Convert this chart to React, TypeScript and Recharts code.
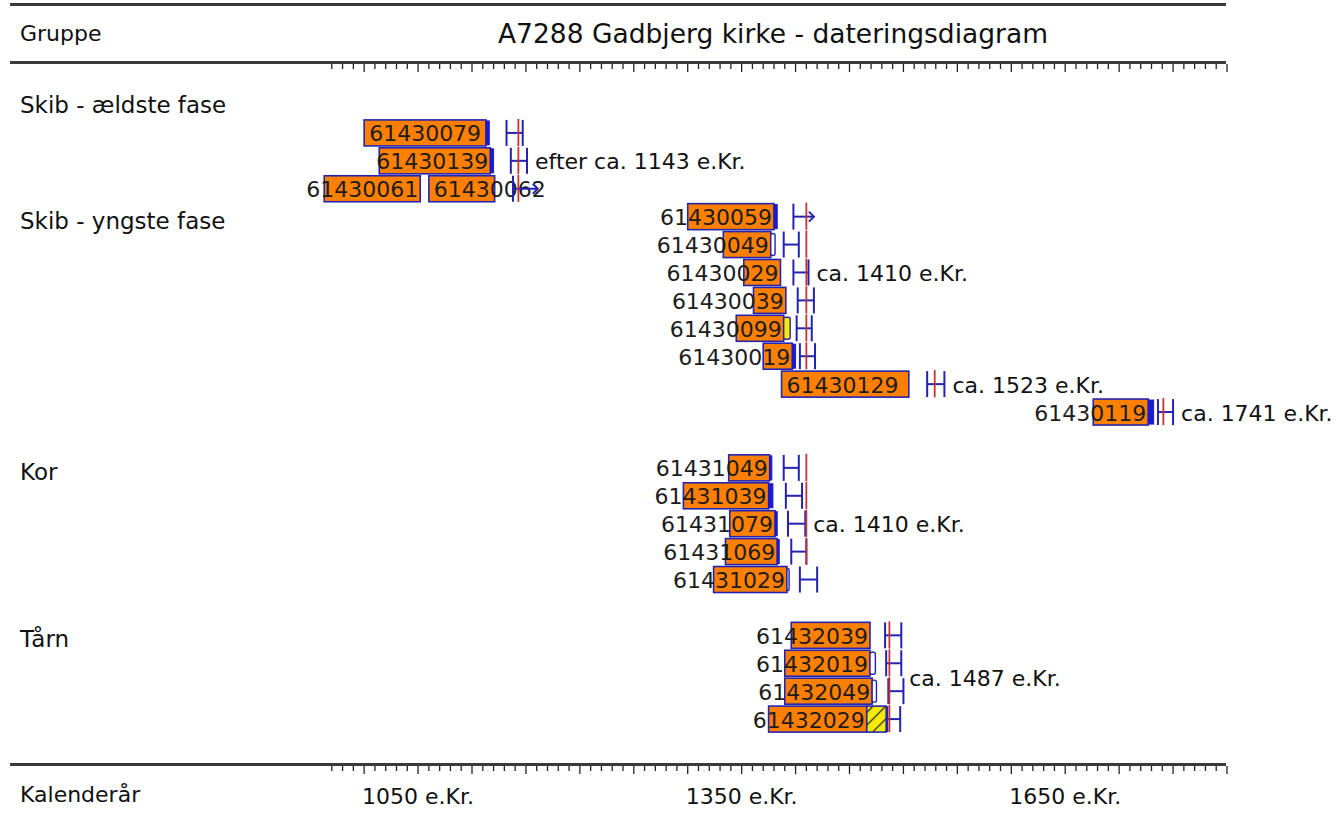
import React from 'react';
import { BarChart, Bar, XAxis, YAxis } from 'recharts';

const FONT = "'DejaVu Sans', sans-serif";
const ORANGE = '#ff8000';
const BLUE = '#2424b0';
const RED = '#c83232';

// rows of the diagram (top to bottom)
const rowIds = Array.from({ length: 23 }, (_, i) => `r${i}`);

const groupNames = ['Skib - ældste fase', 'Skib - yngste fase', 'Kor', 'Tårn'];
const groupLabelRow = [0, 4, 13, 19];

// samples
const sampleIds = [
  '61430079', '61430139', '61430061', '61430062',
  '61430059', '61430049', '61430029', '61430039', '61430099', '61430019', '61430129', '61430119',
  '61431049', '61431039', '61431079', '61431069', '61431029',
  '61432039', '61432019', '61432049', '61432029',
];
const sampleRow = [1, 2, 3, 3, 4, 5, 6, 7, 8, 9, 10, 11, 13, 14, 15, 16, 17, 19, 20, 21, 22];
const firstRing = [1000, 1014, 963, 1060, 1300, 1333, 1352, 1361, 1345, 1370, 1387, 1676, 1338, 1296, 1339, 1335, 1324, 1396, 1390, 1390, 1375];
const lastHeartwood = [1113, 1117, 1052, 1121, 1380, 1377, 1386, 1391, 1389, 1397, 1505, 1727, 1376, 1375, 1381, 1383, 1392, 1469, 1469, 1471, 1466];
const sapwoodEnd = [1116, 1120, null, null, 1383, 1381, null, null, 1395, 1400, null, 1732, 1378, 1379, 1383, 1384, 1394, null, 1474, 1475, 1484];
const sapwoodKind = ['measured', 'measured', '', '', 'measured', 'missing', '', '', 'yellow', 'measured', '', 'measured', 'measured', 'measured', 'measured', 'measured', 'missing', '', 'missing', 'missing', 'hatched'];
const fellingFrom = [1132, 1136, null, 1138, 1398, 1389, 1398, 1402, 1401, 1404, 1522, 1736, 1389, 1391, 1393, 1396, 1404, 1483, 1484, 1486, 1485];
const fellingTo = [1147, 1151, null, 1161, 1417, 1403, 1412, 1417, 1415, 1418, 1538, 1750, 1403, 1406, 1409, 1410, 1420, 1498, 1498, 1500, 1497];
const openEnded = ['61430062', '61430059'];
const labelAtStart = ['61430062'];

// dating lines
const datingYear = [1143, 1410, 1529, 1741, 1410, 1487];
const datingFromRow = [1, 4, 10, 11, 13, 19];
const datingToRow = [3, 9, 10, 11, 16, 22];
const datingText = ['efter ca. 1143 e.Kr.', 'ca. 1410 e.Kr.', 'ca. 1523 e.Kr.', 'ca. 1741 e.Kr.', 'ca. 1410 e.Kr.', 'ca. 1487 e.Kr.'];
const datingTextRow = [2, 6, 10, 11, 15, 20.5];

// axis
const axisFirstTick = 970;
const axisLastTick = 1800;
const labelledYears = [1050, 1350, 1650];
const yearTicks: number[] = [];
for (let y = axisFirstTick; y <= axisLastTick; y += 10) yearTicks.push(y);

const rows = rowIds.map((row, i) => {
  const entry: any = { row };
  sampleRow.forEach((r, k) => {
    if (r !== i) return;
    const key = entry.heart ? 'heart2' : 'heart';
    entry[key] = [firstRing[k], lastHeartwood[k]];
    entry[key + 'Id'] = sampleIds[k];
    if (sapwoodEnd[k] != null) {
      entry.sap = [lastHeartwood[k], sapwoodEnd[k]];
      entry.sapKind = sapwoodKind[k];
    }
    if (fellingFrom[k] != null) {
      entry.felling = [fellingFrom[k], fellingTo[k]];
      entry.open = openEnded.includes(sampleIds[k]);
    }
  });
  datingYear.forEach((yr, g) => {
    if (i >= datingFromRow[g] && i <= datingToRow[g]) entry.dating = [yr - 0.5, yr + 0.5];
    if (Math.floor(datingTextRow[g]) === i) {
      entry.note = datingText[g];
      entry.noteBetween = datingTextRow[g] % 1 !== 0;
    }
  });
  const gi = groupLabelRow.indexOf(i);
  if (gi >= 0) entry.group = groupNames[gi];
  return entry;
});

const ok = (p: any) => Number.isFinite(p.x) && Number.isFinite(p.width) && p.width >= 0;

const heartShape = (idKey: string) => (p: any) => {
  const id = p.payload && p.payload[idKey];
  if (!id || !ok(p)) return <g />;
  const textW = id.length * 22 * 0.62;
  const atStart = labelAtStart.includes(id) || p.width >= textW + 6;
  return (
    <g>
      <rect x={p.x} y={p.y} width={p.width} height={p.height} fill={ORANGE} stroke={BLUE} strokeWidth={1.6} />
      <text
        x={atStart ? p.x + 5 : p.x + p.width - 2}
        y={p.y + p.height / 2 + 1}
        textAnchor={atStart ? 'start' : 'end'}
        dominantBaseline="central"
        fontSize={22}
        fontFamily={FONT}
        fill="#1c1c1c"
      >
        {id}
      </text>
    </g>
  );
};

const sapShape = (p: any) => {
  if (!p.payload || !p.payload.sap || !ok(p)) return <g />;
  const kind = p.payload.sapKind;
  const w = Math.max(p.width, 2);
  if (kind === 'measured') {
    return <rect x={p.x} y={p.y + 1} width={w} height={p.height - 2} fill="#1a1ad0" stroke="#1a1ad0" strokeWidth={1} />;
  }
  if (kind === 'hatched') {
    return (
      <g>
        <defs>
          <pattern id="hatch" patternUnits="userSpaceOnUse" width="9" height="9" patternTransform="rotate(45)">
            <rect width="9" height="9" fill="#f4ec00" />
            <line x1="0" y1="0" x2="0" y2="9" stroke="#222" strokeWidth="2.5" />
          </pattern>
        </defs>
        <rect x={p.x} y={p.y} width={w} height={p.height} fill="url(#hatch)" stroke={BLUE} strokeWidth={1.6} />
      </g>
    );
  }
  return (
    <rect
      x={p.x}
      y={p.y + 2}
      width={w}
      height={p.height - 4}
      rx={2}
      fill={kind === 'yellow' ? '#f4ec00' : '#ffffff'}
      stroke={BLUE}
      strokeWidth={1.4}
    />
  );
};

const fellingShape = (p: any) => {
  if (!p.payload || !p.payload.felling || !ok(p)) return <g />;
  const x1 = p.x;
  const x2 = p.x + p.width;
  const top = p.y;
  const bot = p.y + p.height;
  const mid = p.y + p.height / 2;
  const note = p.payload.note;
  return (
    <g>
      <line x1={x1} x2={x1} y1={top} y2={bot} stroke={BLUE} strokeWidth={2} />
      <line x1={x1} x2={x2} y1={mid} y2={mid} stroke={BLUE} strokeWidth={2} />
      {p.payload.open ? (
        <polyline points={`${x2 - 5},${mid - 5} ${x2},${mid} ${x2 - 5},${mid + 5}`} fill="none" stroke={BLUE} strokeWidth={2} />
      ) : (
        <line x1={x2} x2={x2} y1={top} y2={bot} stroke={BLUE} strokeWidth={2} />
      )}
      {note && (
        <text
          x={x2 + 8}
          y={mid + 1 + (p.payload.noteBetween ? p.height / 2 + 1 : 0)}
          dominantBaseline="central"
          fontSize={22}
          fontFamily={FONT}
          fill="#111"
        >
          {note}
        </text>
      )}
    </g>
  );
};

const datingShape = (p: any) => {
  if (!p.payload || !p.payload.dating || !ok(p)) return <g />;
  const cx = p.x + p.width / 2;
  return <line x1={cx} x2={cx} y1={p.y - 1} y2={p.y + p.height + 1} stroke={RED} strokeWidth={1.8} />;
};

const YearTick = (props: any) => {
  const { x, y, payload, showLabel } = props;
  const v = payload.value;
  const major = v % 50 === 0;
  return (
    <g>
      <line x1={x} x2={x} y1={y + 1} y2={y + (major ? 9 : 6)} stroke="#222" strokeWidth={1.3} />
      {showLabel && labelledYears.includes(v) && (
        <text x={x} y={y + 31} textAnchor="middle" dominantBaseline="central" fontSize={22} fontFamily={FONT} fill="#111">
          {`${v} e.Kr.`}
        </text>
      )}
    </g>
  );
};

const GroupTick = (props: any) => {
  const entry = rows.find((r) => r.row === props.payload.value);
  if (!entry || !entry.group) return <g />;
  return (
    <text x={20} y={props.y + (entry.heart ? 4 : 0)} dominantBaseline="central" fontSize={23} fontFamily={FONT} fill="#111">
      {entry.group}
    </text>
  );
};

const rowPadding = { top: 28, bottom: 32 };

const hRule = (top: number) => (
  <div style={{ position: 'absolute', left: 10, top, width: 1216, height: 3, background: '#3a3a3a' }} />
);

export default function App() {
  return (
    <div style={{ position: 'absolute', left: 0, top: 0, width: 1341, height: 820, background: '#fff', fontFamily: FONT, color: '#111' }}>
      {hRule(3)}
      {hRule(61)}
      {hRule(763)}
      <div style={{ position: 'absolute', left: 20, top: 19, fontSize: 22, lineHeight: '30px' }}>Gruppe</div>
      <div style={{ position: 'absolute', left: 773, top: 18, fontSize: 26.5, lineHeight: '32px', transform: 'translateX(-50%)', whiteSpace: 'nowrap' }}>
        A7288 Gadbjerg kirke - dateringsdiagram
      </div>
      <div style={{ position: 'absolute', left: 20, top: 780, fontSize: 22, lineHeight: '30px' }}>Kalenderår</div>
      <BarChart
        width={1341}
        height={820}
        data={rows}
        layout="vertical"
        margin={{ top: 0, right: 114, bottom: 0, left: 0 }}
        barCategoryGap={1}
        style={{ position: 'absolute', left: 0, top: 0, overflow: 'visible' }}
      >
        <XAxis
          xAxisId="t"
          orientation="top"
          type="number"
          domain={[960, 1800]}
          allowDataOverflow
          ticks={yearTicks}
          interval={0}
          height={63}
          tickSize={0}
          tickMargin={0}
          axisLine={false}
          tickLine={false}
          tick={<YearTick showLabel={false} />}
        />
        <XAxis
          xAxisId="b"
          orientation="bottom"
          type="number"
          domain={[960, 1800]}
          ticks={yearTicks}
          interval={0}
          height={55}
          tickSize={0}
          tickMargin={0}
          axisLine={false}
          tickLine={false}
          tick={<YearTick showLabel />}
        />
        <YAxis
          yAxisId="main"
          type="category"
          dataKey="row"
          width={321}
          padding={rowPadding}
          interval={0}
          axisLine={false}
          tickLine={false}
          tickSize={0}
          tick={<GroupTick />}
        />
        <YAxis yAxisId="h2" type="category" dataKey="row" hide padding={rowPadding} />
        <YAxis yAxisId="sap" type="category" dataKey="row" hide padding={rowPadding} />
        <YAxis yAxisId="fel" type="category" dataKey="row" hide padding={rowPadding} />
        <YAxis yAxisId="dat" type="category" dataKey="row" hide padding={rowPadding} />
        <Bar xAxisId="b" yAxisId="main" dataKey="heart" barSize={26} shape={heartShape('heartId')} isAnimationActive={false} />
        <Bar xAxisId="b" yAxisId="h2" dataKey="heart2" barSize={26} shape={heartShape('heart2Id')} isAnimationActive={false} />
        <Bar xAxisId="b" yAxisId="sap" dataKey="sap" barSize={26} shape={sapShape} isAnimationActive={false} />
        <Bar xAxisId="b" yAxisId="fel" dataKey="felling" barSize={26} shape={fellingShape} isAnimationActive={false} />
        <Bar xAxisId="b" yAxisId="dat" dataKey="dating" barSize={28} shape={datingShape} isAnimationActive={false} />
      </BarChart>
    </div>
  );
}
